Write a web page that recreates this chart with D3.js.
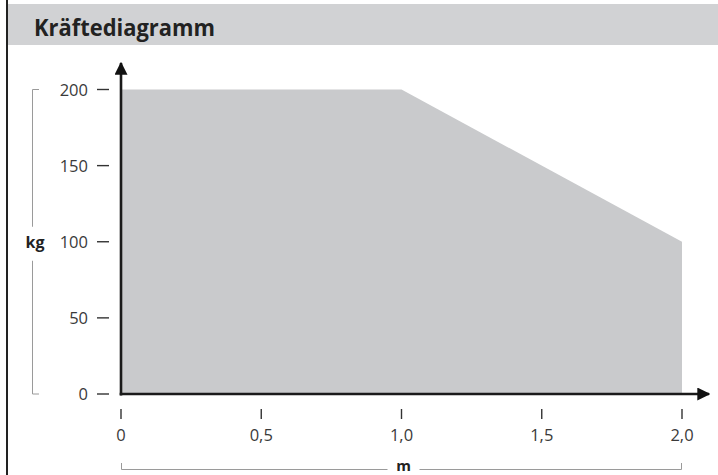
<!DOCTYPE html>
<html>
<head>
<meta charset="utf-8">
<script src="https://cdn.jsdelivr.net/npm/d3@7"></script>
<style>
  body { margin: 0; background: #fff; }
  svg { display: block; font-family: "Open Sans", "Noto Sans", sans-serif; }
</style>
</head>
<body>
<svg id="chart"></svg>
<script>
const title = "Kräftediagramm";
const xUnit = "m";
const yUnit = "kg";
const xTicks = [0, 0.5, 1.0, 1.5, 2.0];
const yTicks = [0, 50, 100, 150, 200];
// load limit curve (m -> kg)
const distance = [0, 1.0, 2.0, 2.0];
const load = [200, 200, 100, 0];

const W = 718, H = 475;
const svg = d3.select("#chart").attr("width", W).attr("height", H);

const x = d3.scaleLinear().domain([0, 2]).range([121, 682]);
const y = d3.scaleLinear().domain([0, 200]).range([394, 89.5]);

// header band and left frame
svg.append("rect").attr("x", 8).attr("y", 4).attr("width", W - 8).attr("height", 41).attr("fill", "#d1d2d4");
svg.append("line").attr("x1", 7).attr("x2", 7).attr("y1", 0).attr("y2", H)
  .attr("stroke", "#222").attr("stroke-width", 2);
svg.append("text").attr("x", 34).attr("y", 35.5).text(title)
  .attr("font-size", 23).attr("font-weight", 700).attr("fill", "#222")
  .attr("textLength", 181).attr("lengthAdjust", "spacingAndGlyphs");

// area
const pts = distance.map((d, i) => [d, load[i]]);
pts.push([0, 0]);
const area = d3.line().x(d => x(d[0])).y(d => y(d[1]));
svg.append("path").attr("d", area(pts) + "Z").attr("fill", "#c9cacc");

// arrow heads
const defs = svg.append("defs");
defs.append("marker").attr("id", "arr").attr("viewBox", "0 0 10 10")
  .attr("refX", 9).attr("refY", 5).attr("markerWidth", 5).attr("markerHeight", 5)
  .attr("markerUnits", "strokeWidth").attr("orient", "auto")
  .append("path").attr("d", "M0,0 L10,5 L0,10 Z").attr("fill", "#111");

const axisCol = "#1a1a1a";
svg.append("line").attr("x1", x(0)).attr("x2", x(0)).attr("y1", y(0) + 1.5).attr("y2", 63)
  .attr("stroke", axisCol).attr("stroke-width", 2.6).attr("marker-end", "url(#arr)");
svg.append("line").attr("x1", x(0) - 1.3).attr("x2", 709).attr("y1", y(0)).attr("y2", y(0))
  .attr("stroke", axisCol).attr("stroke-width", 2.6).attr("marker-end", "url(#arr)");

const labCol = "#3a3a3a";
const fmt = d => d === 0 ? "0" : d3.format(".1f")(d).replace(".", ",");

// y ticks
const yg = svg.append("g").selectAll("g").data(yTicks).enter().append("g");
yg.append("line").attr("x1", 97).attr("x2", 109).attr("y1", d => y(d)).attr("y2", d => y(d))
  .attr("stroke", "#333").attr("stroke-width", 1.4);
yg.append("text").attr("x", 88).attr("y", d => y(d) + 6).attr("text-anchor", "end")
  .attr("font-size", 16.5).attr("fill", labCol).text(d => d);

// x ticks
const xg = svg.append("g").selectAll("g").data(xTicks).enter().append("g");
xg.append("line").attr("x1", d => x(d)).attr("x2", d => x(d)).attr("y1", 409).attr("y2", 419)
  .attr("stroke", "#333").attr("stroke-width", 1.4);
xg.append("text").attr("x", d => x(d)).attr("y", 441).attr("text-anchor", "middle")
  .attr("font-size", 16.5).attr("fill", labCol).text(fmt);

// unit brackets
const brCol = "#9a9a9a";
const ymid = y(100);
svg.append("path").attr("fill", "none").attr("stroke", brCol).attr("stroke-width", 1)
  .attr("d", `M39,${y(200)} H32.5 V${ymid - 15} M32.5,${ymid + 19} V${y(0)} H39`);
svg.append("text").attr("x", 35).attr("y", ymid + 6).attr("text-anchor", "middle")
  .attr("font-size", 16).attr("font-weight", 700).attr("fill", "#222").text(yUnit);

const xmid = x(1);
svg.append("path").attr("fill", "none").attr("stroke", brCol).attr("stroke-width", 1)
  .attr("d", `M${x(0) + 0.5},463 V469.5 H${xmid - 14} M${xmid + 18},469.5 H${x(2) - 0.5} V463`);
svg.append("text").attr("x", xmid + 2).attr("y", 471).attr("text-anchor", "middle")
  .attr("font-size", 15).attr("font-weight", 700).attr("fill", "#222").text(xUnit);
</script>
</body>
</html>
